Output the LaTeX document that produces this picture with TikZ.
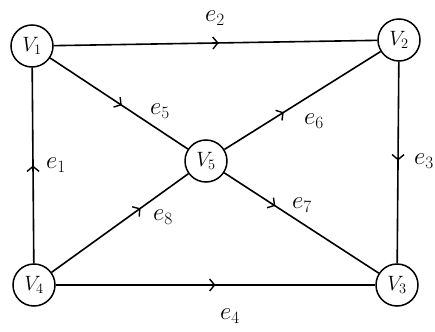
\documentclass[tikz,border=0pt]{standalone}
\usetikzlibrary{decorations.markings,arrows.meta}
\begin{document}
\begin{tikzpicture}[x=1pt,y=-1pt,
  vtx/.style={draw,circle,line width=1.5pt,minimum size=42pt,inner sep=0pt,font=\fontsize{22}{26}\selectfont},
  lab/.style={font=\fontsize{27}{30}\selectfont,inner sep=0pt},
  edg/.style={line width=1.6pt,postaction={decorate},decoration={markings,
     mark=at position #1 with {\arrow{Straight Barb[length=5pt,width=12pt,line width=1.4pt]}}}},
  edg/.default=0.5]
\useasboundingbox (0,0) rectangle (435,331);
\node[vtx] (v1) at (32,46) {$V_1$};
\node[vtx] (v2) at (399,40) {$V_2$};
\node[vtx] (v3) at (397,285) {$V_3$};
\node[vtx] (v4) at (34,285) {$V_4$};
\node[vtx] (v5) at (206,161) {$V_5$};
\draw[edg=0.5] (v4) -- (v1);
\draw[edg=0.51] (v1) -- (v2);
\draw[edg=0.49] (v2) -- (v3);
\draw[edg=0.5] (v4) -- (v3);
\draw[edg=0.52] (v1) -- (v5);
\draw[edg=0.38] (v5) -- (v2);
\draw[edg=0.33] (v5) -- (v3);
\draw[edg=0.65] (v4) -- (v5);
\node[lab,anchor=east] (e3) at (434,161) {$e_3$};
\node[lab] (e1) at (56,165) {$e_1$};
\node[lab] (e2) at (215,18) {$e_2$};
\node[lab] (e4) at (230,316) {$e_4$};
\node[lab] (e5) at (160,111) {$e_5$};
\node[lab] (e6) at (314,121) {$e_6$};
\node[lab] (e7) at (302,205) {$e_7$};
\node[lab] (e8) at (163,217) {$e_8$};
\end{tikzpicture}
\end{document}
